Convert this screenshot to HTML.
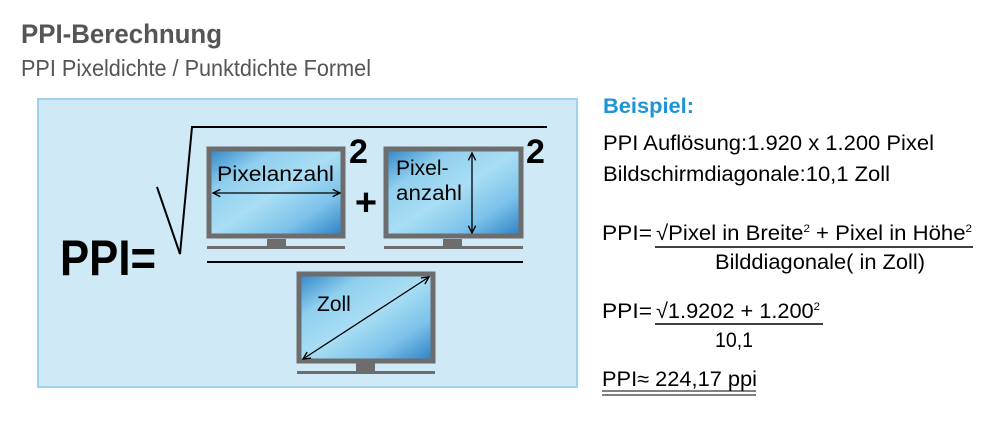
<!DOCTYPE html>
<html><head><meta charset="utf-8"><style>
html,body{margin:0;padding:0;background:#fff;}
svg{display:block;font-family:"Liberation Sans",sans-serif;}
</style></head><body>
<svg width="1002" height="430" viewBox="0 0 1002 430" xmlns="http://www.w3.org/2000/svg">
<defs>
<linearGradient id="g" x1="0" y1="0" x2="1" y2="1">
<stop offset="0" stop-color="#2f84c6"/>
<stop offset="0.25" stop-color="#8fcfee"/>
<stop offset="0.5" stop-color="#a9def4"/>
<stop offset="0.75" stop-color="#7cc2ea"/>
<stop offset="1" stop-color="#2a7fc4"/>
</linearGradient>
<marker id="a" viewBox="0 0 10 10" refX="9" refY="5" markerWidth="7" markerHeight="7" orient="auto-start-reverse"><path d="M1,1 L9,5 L1,9" fill="none" stroke="#000" stroke-width="1.5"/></marker>
</defs>
<text x="21" y="43" font-size="27" font-weight="bold" fill="#555" textLength="201" lengthAdjust="spacingAndGlyphs">PPI-Berechnung</text>
<text x="21" y="76" font-size="23" fill="#555" textLength="350" lengthAdjust="spacingAndGlyphs">PPI Pixeldichte / Punktdichte Formel</text>
<rect x="38" y="99" width="539" height="288" fill="#cfe9f6" stroke="#9dd3ee" stroke-width="2"/>
<text x="60" y="275" font-size="50" font-weight="bold" textLength="96" lengthAdjust="spacingAndGlyphs">PPI=</text>
<polyline points="157,187 180,254 192,127 547,127" fill="none" stroke="#000" stroke-width="2"/>
<rect x="209" y="149" width="134" height="87" fill="url(#g)" stroke="#6d6d6d" stroke-width="5"/>
<rect x="267" y="239" width="19" height="8" fill="#6d6d6d"/>
<rect x="207" y="246" width="138" height="3" fill="#6d6d6d"/>
<text x="217" y="181" font-size="21" textLength="117" lengthAdjust="spacingAndGlyphs">Pixelanzahl</text>
<line x1="213" y1="193" x2="340" y2="193" stroke="#000" stroke-width="1.3" marker-start="url(#a)" marker-end="url(#a)"/>
<text x="349" y="163" font-size="34" font-weight="bold">2</text>
<text x="366" y="215" font-size="38" font-weight="bold" text-anchor="middle">+</text>
<rect x="386" y="149" width="135" height="87" fill="url(#g)" stroke="#6d6d6d" stroke-width="5"/>
<rect x="443" y="239" width="19" height="8" fill="#6d6d6d"/>
<rect x="384" y="246" width="139" height="3" fill="#6d6d6d"/>
<text x="396" y="175" font-size="21">Pixel-</text>
<text x="396" y="200" font-size="21" textLength="66" lengthAdjust="spacingAndGlyphs">anzahl</text>
<line x1="472" y1="153" x2="472" y2="233" stroke="#000" stroke-width="1.3" marker-start="url(#a)" marker-end="url(#a)"/>
<text x="526" y="163" font-size="34" font-weight="bold">2</text>
<line x1="207" y1="262" x2="523" y2="262" stroke="#000" stroke-width="2"/>
<rect x="299" y="274" width="134" height="87" fill="url(#g)" stroke="#6d6d6d" stroke-width="5"/>
<rect x="356" y="363" width="19" height="8" fill="#6d6d6d"/>
<rect x="297" y="371" width="138" height="3" fill="#6d6d6d"/>
<text x="317" y="311" font-size="21">Zoll</text>
<line x1="303" y1="359" x2="429" y2="277" stroke="#000" stroke-width="1.3" marker-start="url(#a)" marker-end="url(#a)"/>
<text x="603" y="113" font-size="21" font-weight="bold" fill="#1b95d8" textLength="91" lengthAdjust="spacingAndGlyphs">Beispiel:</text>
<text x="603" y="150" font-size="21" textLength="331" lengthAdjust="spacingAndGlyphs">PPI Auflösung:1.920 x 1.200 Pixel</text>
<text x="603" y="181" font-size="21" textLength="287" lengthAdjust="spacingAndGlyphs">Bildschirmdiagonale:10,1 Zoll</text>
<text x="602" y="240" font-size="21" textLength="50" lengthAdjust="spacingAndGlyphs">PPI=</text>
<text x="656" y="240" font-size="21" textLength="316" lengthAdjust="spacingAndGlyphs">√Pixel in Breite<tspan font-size="11" dy="-8">2</tspan><tspan dy="8"> + Pixel in Höhe</tspan><tspan font-size="11" dy="-8">2</tspan></text>
<line x1="655" y1="247" x2="973" y2="247" stroke="#000" stroke-width="1.5"/>
<text x="715" y="269" font-size="21" textLength="210" lengthAdjust="spacingAndGlyphs">Bilddiagonale( in Zoll)</text>
<text x="602" y="318" font-size="21" textLength="50" lengthAdjust="spacingAndGlyphs">PPI=</text>
<text x="656" y="318" font-size="21" textLength="164" lengthAdjust="spacingAndGlyphs">√1.9202 + 1.200<tspan font-size="11" dy="-8">2</tspan></text>
<line x1="655" y1="324" x2="823" y2="324" stroke="#000" stroke-width="1.5"/>
<text x="715" y="347" font-size="21" textLength="38" lengthAdjust="spacingAndGlyphs">10,1</text>
<text x="602" y="386" font-size="21" textLength="155" lengthAdjust="spacingAndGlyphs">PPI≈ 224,17 ppi</text>
<line x1="602" y1="391" x2="756" y2="391" stroke="#000" stroke-width="1"/>
<line x1="602" y1="395" x2="756" y2="395" stroke="#000" stroke-width="1"/>
</svg>
</body></html>
